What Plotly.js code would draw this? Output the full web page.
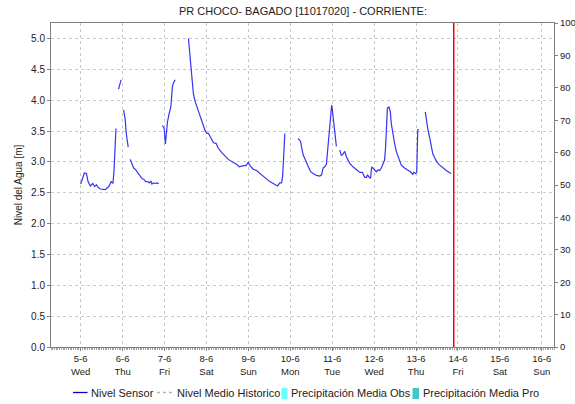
<!DOCTYPE html>
<html>
<head>
<meta charset="utf-8">
<script src="https://cdn.plot.ly/plotly-3.0.1.min.js"></script>
<style>html,body{margin:0;padding:0;background:#fff;}#chart{width:575px;height:404px;}</style>
</head>
<body>
<div id="chart"></div>
<script>
// Nivel Sensor (null = gap in the record)
const sensorTimes = [
"2024-06-05 00:00","2024-06-05 02:06","2024-06-05 03:18","2024-06-05 04:12","2024-06-05 05:30","2024-06-05 06:54","2024-06-05 08:00","2024-06-05 09:00","2024-06-05 09:48","2024-06-05 11:18","2024-06-05 14:06","2024-06-05 16:00","2024-06-05 17:30","2024-06-05 18:30","2024-06-05 19:06","2024-06-05 19:36","2024-06-05 20:12","2024-06-05 20:45",
"2024-06-05 21:42","2024-06-05 22:24","2024-06-05 23:06","2024-06-05 23:50",
"2024-06-06 00:36","2024-06-06 01:30","2024-06-06 02:06","2024-06-06 02:48","2024-06-06 03:12","2024-06-06 03:50",
"2024-06-06 04:24","2024-06-06 05:24","2024-06-06 06:18","2024-06-06 07:12","2024-06-06 08:12","2024-06-06 09:06","2024-06-06 10:06","2024-06-06 11:06","2024-06-06 12:00","2024-06-06 13:18","2024-06-06 14:18","2024-06-06 15:24","2024-06-06 16:12","2024-06-06 16:48","2024-06-06 17:42","2024-06-06 18:42","2024-06-06 19:36","2024-06-06 20:48","2024-06-06 21:30",
"2024-06-06 22:48","2024-06-06 23:48","2024-06-07 00:30","2024-06-07 00:54","2024-06-07 01:42","2024-06-07 02:42","2024-06-07 03:36","2024-06-07 04:30","2024-06-07 05:06","2024-06-07 06:06","2024-06-07 08:00",
"2024-06-07 13:42","2024-06-07 14:36","2024-06-07 15:36","2024-06-07 16:30","2024-06-07 17:30","2024-06-07 18:30","2024-06-07 19:24","2024-06-07 20:24","2024-06-07 21:18","2024-06-07 22:12","2024-06-07 23:12","2024-06-08 00:12","2024-06-08 01:06","2024-06-08 02:06","2024-06-08 03:00","2024-06-08 04:00","2024-06-08 05:30","2024-06-08 06:48","2024-06-08 08:48","2024-06-08 10:36","2024-06-08 12:30","2024-06-08 15:24","2024-06-08 17:18","2024-06-08 18:48","2024-06-08 21:06","2024-06-08 22:36","2024-06-08 23:54","2024-06-09 00:54","2024-06-09 02:48","2024-06-09 04:42","2024-06-09 06:36","2024-06-09 08:30","2024-06-09 10:30","2024-06-09 12:18","2024-06-09 14:12","2024-06-09 16:42","2024-06-09 18:00","2024-06-09 19:00","2024-06-09 19:36","2024-06-09 20:12","2024-06-09 20:54","2024-06-09 22:00",
"2024-06-10 04:30","2024-06-10 05:54","2024-06-10 06:24","2024-06-10 07:24","2024-06-10 08:42","2024-06-10 10:12","2024-06-10 11:36","2024-06-10 13:06","2024-06-10 15:00","2024-06-10 16:54","2024-06-10 17:54","2024-06-10 18:48","2024-06-10 19:42","2024-06-10 20:42","2024-06-10 21:36","2024-06-10 22:36","2024-06-10 23:12","2024-06-10 23:42","2024-06-11 00:06","2024-06-11 00:54","2024-06-11 01:24","2024-06-11 02:00","2024-06-11 02:24","2024-06-11 03:00",
"2024-06-11 04:18","2024-06-11 05:18","2024-06-11 06:12","2024-06-11 07:12","2024-06-11 08:12","2024-06-11 10:00","2024-06-11 11:54","2024-06-11 13:54","2024-06-11 15:48","2024-06-11 17:18","2024-06-11 18:00","2024-06-11 18:36","2024-06-11 19:36","2024-06-11 20:12","2024-06-11 21:30","2024-06-11 22:00","2024-06-11 22:36","2024-06-11 23:18","2024-06-12 00:18","2024-06-12 01:18","2024-06-12 02:12","2024-06-12 03:12","2024-06-12 04:06","2024-06-12 05:00","2024-06-12 06:00","2024-06-12 06:36","2024-06-12 07:00","2024-06-12 07:36","2024-06-12 08:30","2024-06-12 09:18","2024-06-12 09:48","2024-06-12 10:48","2024-06-12 11:42","2024-06-12 12:42","2024-06-12 14:12","2024-06-12 15:30","2024-06-12 17:24","2024-06-12 19:18","2024-06-12 20:48","2024-06-12 22:06","2024-06-12 22:42","2024-06-12 23:42","2024-06-13 00:24","2024-06-13 01:00","2024-06-13 01:36","2024-06-13 02:30",
"2024-06-13 05:18","2024-06-13 05:48","2024-06-13 06:42","2024-06-13 07:42","2024-06-13 08:42","2024-06-13 09:36","2024-06-13 10:36","2024-06-13 11:54","2024-06-13 13:24","2024-06-13 15:18","2024-06-13 17:18","2024-06-13 18:48","2024-06-13 20:06"
];
const sensorLevels = [
2.64,2.82,2.81,2.68,2.61,2.65,2.60,2.63,2.59,2.56,2.55,2.60,2.68,2.65,2.87,3.30,3.54,null,
4.18,4.25,4.33,null,
3.84,3.68,3.46,3.33,3.24,null,
3.04,2.98,2.90,2.88,2.84,2.80,2.78,2.73,2.72,2.68,2.68,2.66,2.69,2.64,2.66,2.65,2.66,2.65,null,
3.59,3.54,3.29,3.46,3.65,3.79,3.89,4.22,4.28,4.33,null,
5.00,4.73,4.46,4.11,3.98,3.90,3.81,3.73,3.65,3.60,3.51,3.46,3.46,3.41,3.35,3.31,3.30,3.22,3.15,3.10,3.04,2.99,2.96,2.92,2.94,2.94,2.99,2.94,2.88,2.86,2.81,2.76,2.72,2.68,2.65,2.61,2.66,2.66,2.76,3.14,3.46,null,
3.38,3.33,3.25,3.11,3.03,2.93,2.84,2.81,2.78,2.77,2.79,2.90,2.92,2.96,3.25,3.68,3.89,3.92,3.84,3.63,3.46,3.30,3.25,null,
3.19,3.10,3.13,3.17,3.08,2.98,2.92,2.87,2.83,2.83,2.79,2.75,2.75,2.79,2.74,2.74,2.92,2.90,2.88,2.84,2.87,2.86,2.90,2.95,3.03,3.25,3.57,3.87,3.89,3.81,3.63,3.44,3.30,3.17,3.03,2.95,2.90,2.87,2.84,2.80,2.83,2.81,2.83,3.52,3.53,null,
3.81,3.70,3.54,3.41,3.25,3.13,3.07,3.00,2.95,2.90,2.86,2.83,2.81
];

const currentTime = "2024-06-13 21:36";
const xRange = ["2024-06-04 07:00", "2024-06-16 07:00"];
const tickDates = ["2024-06-05","2024-06-06","2024-06-07","2024-06-08","2024-06-09","2024-06-10","2024-06-11","2024-06-12","2024-06-13","2024-06-14","2024-06-15","2024-06-16"];
const tickLabels = ["5-6<br>Wed","6-6<br>Thu","7-6<br>Fri","8-6<br>Sat","9-6<br>Sun","10-6<br>Mon","11-6<br>Tue","12-6<br>Wed","13-6<br>Thu","14-6<br>Fri","15-6<br>Sat","16-6<br>Sun"];

const seriesNames = ["Nivel Sensor","Nivel Medio Historico","Precipitación Media Obs","Precipitación Media Pro"];
const seriesColors = ["#0000cc","#b4b4b4","#66ffff","#40c8c8"];

const FONT = "Liberation Sans, Arial, sans-serif";
const grid = "#c8c8c8";

// layout helpers: pixel -> paper coordinates (plot area 51..554 x 23..347)
const PL = 51, PW = 503, PB = 347, PH = 324;
const px = v => (v - PL) / PW;
const py = v => (PB - v) / PH;

const traces = [
  {x: sensorTimes, y: sensorLevels, type: "scatter", mode: "lines", name: seriesNames[0],
   line: {color: "#3434f2", width: 1.2}, connectgaps: false, showlegend: false},
  {x: [null], y: [null], type: "scatter", mode: "lines", name: seriesNames[1],
   line: {color: seriesColors[1], width: 1, dash: "dash"}, showlegend: false},
  {x: [null], y: [null], type: "bar", name: seriesNames[2], yaxis: "y2", marker: {color: seriesColors[2]}, showlegend: false},
  {x: [null], y: [null], type: "bar", name: seriesNames[3], yaxis: "y2", marker: {color: seriesColors[3]}, showlegend: false}
];

// manual legend row
const legY = 392.5;
const legendShapes = [
  {type: "line", xref: "paper", yref: "paper", x0: px(73), x1: px(87.5), y0: py(legY), y1: py(legY),
   line: {color: seriesColors[0], width: 1.3}},
  {type: "line", xref: "paper", yref: "paper", x0: px(157), x1: px(172), y0: py(legY), y1: py(legY),
   line: {color: seriesColors[1], width: 1.5, dash: "3px,3px"}},
  {type: "rect", xref: "paper", yref: "paper", x0: px(281.5), x1: px(287.5), y0: py(399), y1: py(388),
   line: {width: 0}, fillcolor: seriesColors[2]},
  {type: "rect", xref: "paper", yref: "paper", x0: px(412.5), x1: px(419), y0: py(399), y1: py(388),
   line: {width: 0}, fillcolor: seriesColors[3]}
];
const legTextX = [89.5, 175.5, 290, 422];
const legendAnn = seriesNames.map((n, i) => ({
  text: n, xref: "paper", yref: "paper", x: px(legTextX[i]), y: py(legY), xanchor: "left", yanchor: "middle",
  showarrow: false, borderpad: 0, font: {family: FONT, size: 11, color: "#222"}
}));

const layout = {
  width: 575, height: 404,
  margin: {l: 51, r: 21, t: 23, b: 57},
  paper_bgcolor: "#fff", plot_bgcolor: "#fff",
  font: {family: FONT, size: 10, color: "#222"},
  title: {text: "PR CHOCO- BAGADO [11017020] - CORRIENTE:", font: {family: FONT, size: 11, color: "#222"},
          x: 0.527, xanchor: "center", y: 0.972, yanchor: "middle"},
  showlegend: false,
  xaxis: {type: "date", range: xRange, tickmode: "array", tickvals: tickDates, ticktext: tickLabels,
          showgrid: true, gridcolor: grid, griddash: "dot", gridwidth: 1,
          showline: true, linecolor: "#808080", linewidth: 1, mirror: true,
          ticks: "outside", ticklen: 3, tickcolor: "#808080",
          minor: {dtick: 3600000, ticks: "outside", ticklen: 2, tickcolor: "#a0a0a0", showgrid: false},
          tickfont: {family: FONT, size: 9.5, color: "#222"}, zeroline: false},
  yaxis: {range: [0, 5.25], dtick: 0.5, tickformat: ".1f",
          showgrid: true, gridcolor: grid, griddash: "dot", gridwidth: 1,
          showline: true, linecolor: "#808080", linewidth: 1,
          ticks: "outside", ticklen: 3, tickcolor: "#808080", zeroline: false,
          tickfont: {family: FONT, size: 10, color: "#222"},
          title: {text: "Nivel del Agua [m]", font: {family: FONT, size: 10, color: "#222"}, standoff: 6}},
  yaxis2: {overlaying: "y", side: "right", range: [0, 100], dtick: 10,
           showgrid: false, zeroline: false, showline: true, linecolor: "#808080", linewidth: 1,
           ticks: "outside", ticklen: 3, tickcolor: "#808080",
           tickfont: {family: FONT, size: 9.5, color: "#222"}},
  shapes: [
    {type: "line", xref: "x", yref: "paper", x0: currentTime, x1: currentTime, y0: 0, y1: 1,
     line: {color: "#ff0000", width: 1.5}}
  ].concat(legendShapes),
  annotations: legendAnn
};

Plotly.newPlot("chart", traces, layout, {displayModeBar: false, staticPlot: true});
</script>
</body>
</html>
